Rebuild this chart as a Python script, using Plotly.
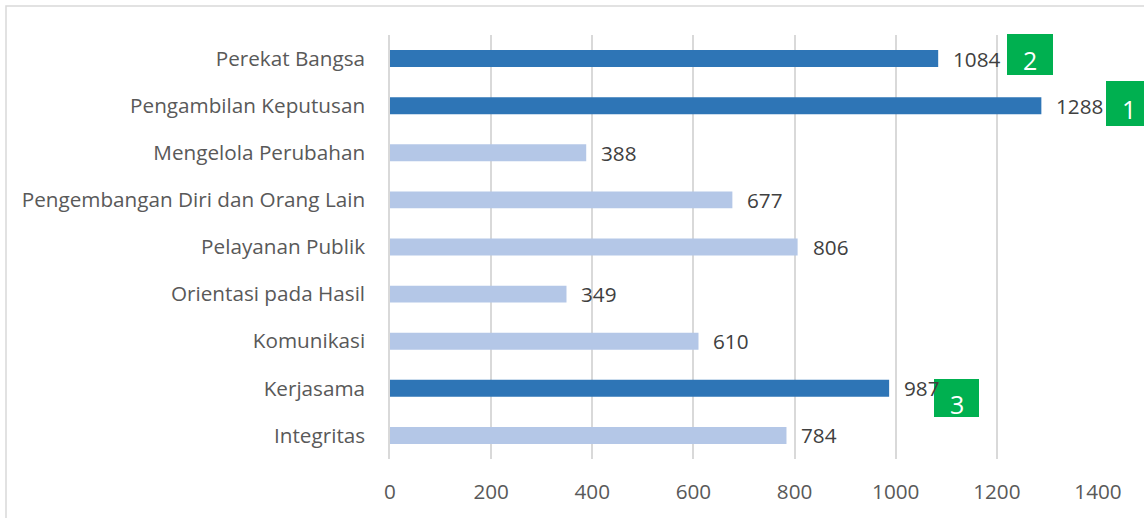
import plotly.graph_objects as go

# Data (top to bottom as shown)
categories = [
    "Perekat Bangsa",
    "Pengambilan Keputusan",
    "Mengelola Perubahan",
    "Pengembangan Diri dan Orang Lain",
    "Pelayanan Publik",
    "Orientasi pada Hasil",
    "Komunikasi",
    "Kerjasama",
    "Integritas",
]
values = [1084, 1288, 388, 677, 806, 349, 610, 987, 784]
highlight = [True, True, False, False, False, False, False, True, False]
rank_labels = ["2", "1", "3"]

DARK = "#2E75B6"
LIGHT = "#B4C7E7"
GREEN = "#00B050"
TEXT = "#595959"
GRID = "#D9D9D9"
FONT = "Open Sans"
FS = 20.7

colors = [DARK if h else LIGHT for h in highlight]

fig = go.Figure(
    go.Bar(
        x=values,
        y=categories,
        orientation="h",
        marker=dict(color=colors, line=dict(width=0)),
        width=0.36,
        hoverinfo="x+y",
    )
)

# plot area geometry (pixels)
L, R, T, B = 390, 46, 35, 59
W, H = 1144, 518
pw, ph = W - L - R, H - T - B


def px_x(p):
    return (p - L) / pw


def px_y(p):
    return (H - B - p) / ph


shapes = [
    dict(type="rect", xref="paper", yref="paper",
         x0=px_x(6), x1=px_x(1170), y0=px_y(540), y1=px_y(6),
         line=dict(color=GRID, width=1.5), fillcolor="rgba(0,0,0,0)", layer="below"),
]

annotations = []
# value labels
for c, v in zip(categories, values):
    annotations.append(dict(x=v, y=c, xref="x", yref="y", text=str(v),
                            showarrow=False, xanchor="left", yanchor="middle",
                            xshift=13, yshift=0,
                            font=dict(family=FONT, size=FS, color="#404040")))

# green rank boxes (pixel boxes: left, right, top, bottom)
boxes = [(1007, 1053, 34, 75), (1106, 1152, 81, 126), (934, 979, 379, 417)]
for (x0, x1, y0, y1), lab in zip(boxes, rank_labels):
    shapes.append(dict(type="rect", xref="paper", yref="paper",
                       x0=px_x(x0), x1=px_x(x1), y0=px_y(y1), y1=px_y(y0),
                       fillcolor=GREEN, line=dict(width=0), layer="above"))
    annotations.append(dict(xref="paper", yref="paper",
                            x=px_x((x0 + x1) / 2), y=px_y((y0 + y1) / 2 + 6),
                            text=lab, showarrow=False,
                            font=dict(family=FONT, size=25, color="white"),
                            xanchor="center", yanchor="middle"))

fig.update_layout(
    width=W, height=H,
    margin=dict(l=L, r=R, t=T, b=B, pad=0),
    paper_bgcolor="white", plot_bgcolor="white",
    showlegend=False,
    font=dict(family=FONT, color=TEXT),
    shapes=shapes,
    annotations=annotations,
)
fig.update_xaxes(
    range=[0, 1400], dtick=200, showgrid=True, gridcolor=GRID, gridwidth=1.5,
    zeroline=False, showline=False, ticks="",
    tickfont=dict(family=FONT, size=FS, color=TEXT),
    ticklabelstandoff=18,
)
fig.update_yaxes(
    autorange="reversed", showgrid=False, zeroline=False,
    showline=True, linecolor=GRID, linewidth=1.5, ticks="",
    tickfont=dict(family=FONT, size=FS, color=TEXT),
    ticklabelstandoff=19,
)

fig.write_html(
    "out.html",
    config={"displayModeBar": False},
    post_script="document.body.style.margin='0';document.body.style.overflow='hidden';",
)
